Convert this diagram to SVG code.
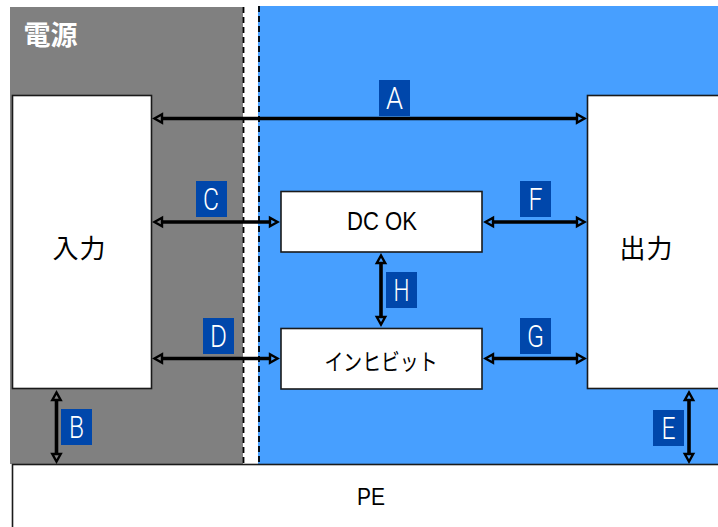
<svg xmlns="http://www.w3.org/2000/svg" width="718" height="527" viewBox="0 0 718 527">
<defs>
<marker id="open" markerUnits="userSpaceOnUse" markerWidth="14" markerHeight="14" refX="2" refY="7" viewBox="0 0 14 14" orient="auto-start-reverse" overflow="visible"><path d="M3 2.800L10.500 7L3 11.200Z" fill="none" stroke="#000" stroke-width="2.400"/></marker>
</defs>
<style>
text{font-family:"Liberation Sans","Noto Sans CJK JP",sans-serif}
.box{fill:#fff;stroke:#1a1a1a;stroke-width:1.6}
.t{font-size:26px;fill:#000;text-anchor:middle}
.lab{fill:#0047ab}
.lt{font-family:"Roboto","Liberation Sans",sans-serif;font-weight:300;font-size:32px;fill:#fff;text-anchor:middle}
.c{stroke:#000;stroke-width:3.600;fill:none;marker-start:url(#open);marker-end:url(#open)}
.d{stroke:#000;stroke-width:1.800;stroke-dasharray:6 4;fill:none}
</style>
<rect x="0" y="0" width="718" height="527" fill="#fff"/>
<g id="regions">
<rect x="10" y="7" width="233" height="457" fill="#808080"/>
<rect x="258" y="6" width="460" height="458" fill="#479fff"/>
<path class="d" d="M243.500 7V464"/>
<path class="d" d="M259 6V464"/>
<text x="50.500" y="45" font-size="27" font-weight="bold" fill="#fff" text-anchor="middle">電源</text>
</g>
<g id="input"><rect class="box" x="12.500" y="95.500" width="139" height="293"/><text class="t" x="79" y="258" textLength="53">入力</text></g>
<g id="output"><rect class="box" x="587.500" y="95.500" width="135" height="293"/><text class="t" x="646" y="258" textLength="53">出力</text></g>
<g id="dcok"><rect class="box" x="281" y="191.500" width="201" height="60.500"/><text class="t" x="382" y="230" textLength="70" lengthAdjust="spacingAndGlyphs">DC OK</text></g>
<g id="inhibit"><rect class="box" x="281" y="328.500" width="201" height="60.500"/><text class="t" x="381" y="370" style="font-size:23px" textLength="113" lengthAdjust="spacingAndGlyphs">インヒビット</text></g>
<g id="pe"><rect class="box" x="12.500" y="464.500" width="710" height="70"/><text class="t" x="371" y="505" style="font-size:23px" textLength="28" lengthAdjust="spacingAndGlyphs">PE</text></g>
<g id="connectors">
<path class="c" d="M163 118.500H576"/>
<path class="c" d="M163 222H269"/>
<path class="c" d="M163 358.500H269"/>
<path class="c" d="M494 222H576"/>
<path class="c" d="M494 358.500H576"/>
<path class="c" d="M381 264V316"/>
<path class="c" d="M56.500 401V453"/>
<path class="c" d="M689 401V453"/>
</g>
<g id="labels">
<g id="label-a"><rect class="lab" x="379" y="80" width="31" height="36"/><text class="lt" x="394.500" y="109" textLength="17" lengthAdjust="spacingAndGlyphs">A</text></g>
<g id="label-b"><rect class="lab" x="61" y="409" width="31" height="36"/><text class="lt" x="76.500" y="438" textLength="15" lengthAdjust="spacingAndGlyphs">B</text></g>
<g id="label-c"><rect class="lab" x="196" y="181" width="31" height="36"/><text class="lt" x="211" y="210" textLength="16" lengthAdjust="spacingAndGlyphs">C</text></g>
<g id="label-d"><rect class="lab" x="203" y="318" width="31" height="36"/><text class="lt" x="218.500" y="347" textLength="17" lengthAdjust="spacingAndGlyphs">D</text></g>
<g id="label-e"><rect class="lab" x="653" y="410" width="31" height="36"/><text class="lt" x="668.500" y="439" textLength="14" lengthAdjust="spacingAndGlyphs">E</text></g>
<g id="label-f"><rect class="lab" x="520" y="181" width="31" height="36"/><text class="lt" x="535.500" y="210" textLength="14" lengthAdjust="spacingAndGlyphs">F</text></g>
<g id="label-g"><rect class="lab" x="520" y="318" width="31" height="36"/><text class="lt" x="535.500" y="347" textLength="17" lengthAdjust="spacingAndGlyphs">G</text></g>
<g id="label-h"><rect class="lab" x="386" y="272" width="31" height="36"/><text class="lt" x="401.500" y="301" textLength="16" lengthAdjust="spacingAndGlyphs">H</text></g>
</g>
</svg>
